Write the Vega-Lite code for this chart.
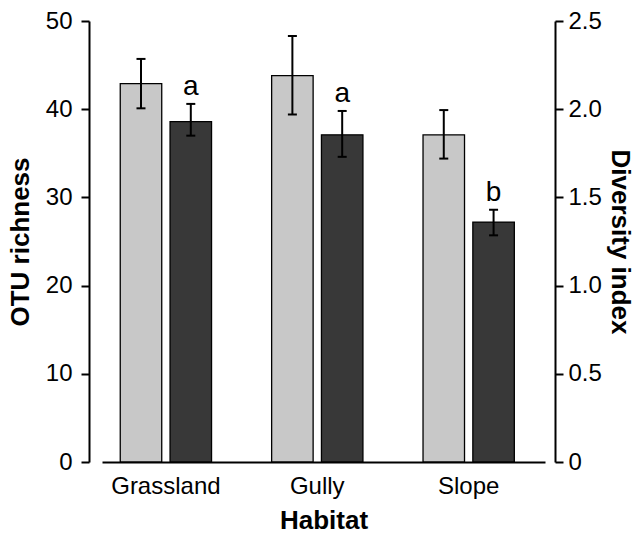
{
  "$schema": "https://vega.github.io/schema/vega-lite/v6.json",
  "width": 443,
  "height": 441,
  "autosize": {"type": "none"},
  "padding": {"left": 102, "top": 21, "right": 94, "bottom": 72},
  "background": "white",
  "config": {
    "view": {"stroke": null},
    "font": "Liberation Sans",
    "axis": {
      "domainColor": "black", "domainWidth": 2, "tickColor": "black", "tickWidth": 2,
      "labelColor": "black", "titleColor": "black", "grid": false,
      "labelFont": "Liberation Sans", "titleFont": "Liberation Sans",
      "labelFontSize": 24, "titleFontSize": 26, "titleFontWeight": "bold"
    }
  },
  "data": {
    "values": [
      {"habitat": "Grassland", "metric": "OTU", "mean": 42.9, "lo": 40.1, "hi": 45.7, "letter": ""},
      {"habitat": "Gully", "metric": "OTU", "mean": 43.8, "lo": 39.4, "hi": 48.3, "letter": ""},
      {"habitat": "Slope", "metric": "OTU", "mean": 37.1, "lo": 34.4, "hi": 39.9, "letter": ""},
      {"habitat": "Grassland", "metric": "Diversity", "mean": 1.93, "lo": 1.85, "hi": 2.03, "letter": "a"},
      {"habitat": "Gully", "metric": "Diversity", "mean": 1.855, "lo": 1.73, "hi": 1.99, "letter": "a"},
      {"habitat": "Slope", "metric": "Diversity", "mean": 1.36, "lo": 1.285, "hi": 1.43, "letter": "b"}
    ]
  },
  "encoding": {
    "x": {
      "field": "habitat", "type": "nominal", "sort": ["Grassland", "Gully", "Slope"],
      "scale": {"paddingInner": 0.397, "paddingOuter": 0.1616, "align": 0.373},
      "axis": {"title": "Habitat", "labelAngle": 0, "ticks": false, "labelPadding": 12, "titlePadding": 9}
    },
    "xOffset": {
      "field": "metric", "type": "nominal",
      "scale": {"domain": ["OTU", "Diversity"], "paddingInner": 0.167, "paddingOuter": 0}
    }
  },
  "layer": [
    {
      "transform": [{"filter": "datum.metric === 'OTU'"}],
      "layer": [
        {
          "mark": {"type": "bar", "fill": "#c8c8c8", "stroke": "black", "strokeWidth": 1.3},
          "encoding": {
            "y": {"field": "mean", "type": "quantitative", "scale": {"domain": [0, 50], "nice": false},
              "axis": {"title": "OTU richness", "orient": "left", "offset": 13, "tickSize": 8, "labelPadding": 9, "titlePadding": 12, "values": [0, 10, 20, 30, 40, 50]}}
          }
        },
        {
          "mark": {"type": "rule", "color": "black", "strokeWidth": 2},
          "encoding": {
            "y": {"field": "lo", "type": "quantitative", "title": "OTU richness", "scale": {"domain": [0, 50], "nice": false}},
            "y2": {"field": "hi"}
          }
        },
        {
          "mark": {"type": "tick", "color": "black", "thickness": 2, "size": 9, "opacity": 1},
          "encoding": {"y": {"field": "lo", "type": "quantitative", "title": "OTU richness", "scale": {"domain": [0, 50], "nice": false}}}
        },
        {
          "mark": {"type": "tick", "color": "black", "thickness": 2, "size": 9, "opacity": 1},
          "encoding": {"y": {"field": "hi", "type": "quantitative", "title": "OTU richness", "scale": {"domain": [0, 50], "nice": false}}}
        }
      ]
    },
    {
      "transform": [{"filter": "datum.metric === 'Diversity'"}],
      "layer": [
        {
          "mark": {"type": "bar", "fill": "#383838", "stroke": "black", "strokeWidth": 1.3},
          "encoding": {
            "y": {"field": "mean", "type": "quantitative", "scale": {"domain": [0, 2.5], "nice": false},
              "axis": {"title": "Diversity index", "orient": "right", "offset": 10, "tickSize": 8, "labelPadding": 5, "titlePadding": 5, "values": [0, 0.5, 1, 1.5, 2, 2.5],
                "labelExpr": "datum.value === 0 ? '0' : format(datum.value, '.1f')"}}
          }
        },
        {
          "mark": {"type": "rule", "color": "black", "strokeWidth": 2},
          "encoding": {
            "y": {"field": "lo", "type": "quantitative", "title": "Diversity index", "scale": {"domain": [0, 2.5], "nice": false}},
            "y2": {"field": "hi"}
          }
        },
        {
          "mark": {"type": "tick", "color": "black", "thickness": 2, "size": 9, "opacity": 1},
          "encoding": {"y": {"field": "lo", "type": "quantitative", "title": "Diversity index", "scale": {"domain": [0, 2.5], "nice": false}}}
        },
        {
          "mark": {"type": "tick", "color": "black", "thickness": 2, "size": 9, "opacity": 1},
          "encoding": {"y": {"field": "hi", "type": "quantitative", "title": "Diversity index", "scale": {"domain": [0, 2.5], "nice": false}}}
        },
        {
          "mark": {"type": "text", "fontSize": 28, "dy": -9, "baseline": "alphabetic", "color": "black", "font": "Liberation Sans"},
          "encoding": {
            "y": {"field": "hi", "type": "quantitative", "title": "Diversity index", "scale": {"domain": [0, 2.5], "nice": false}},
            "text": {"field": "letter"}
          }
        }
      ]
    }
  ],
  "resolve": {"scale": {"y": "independent"}}
}
